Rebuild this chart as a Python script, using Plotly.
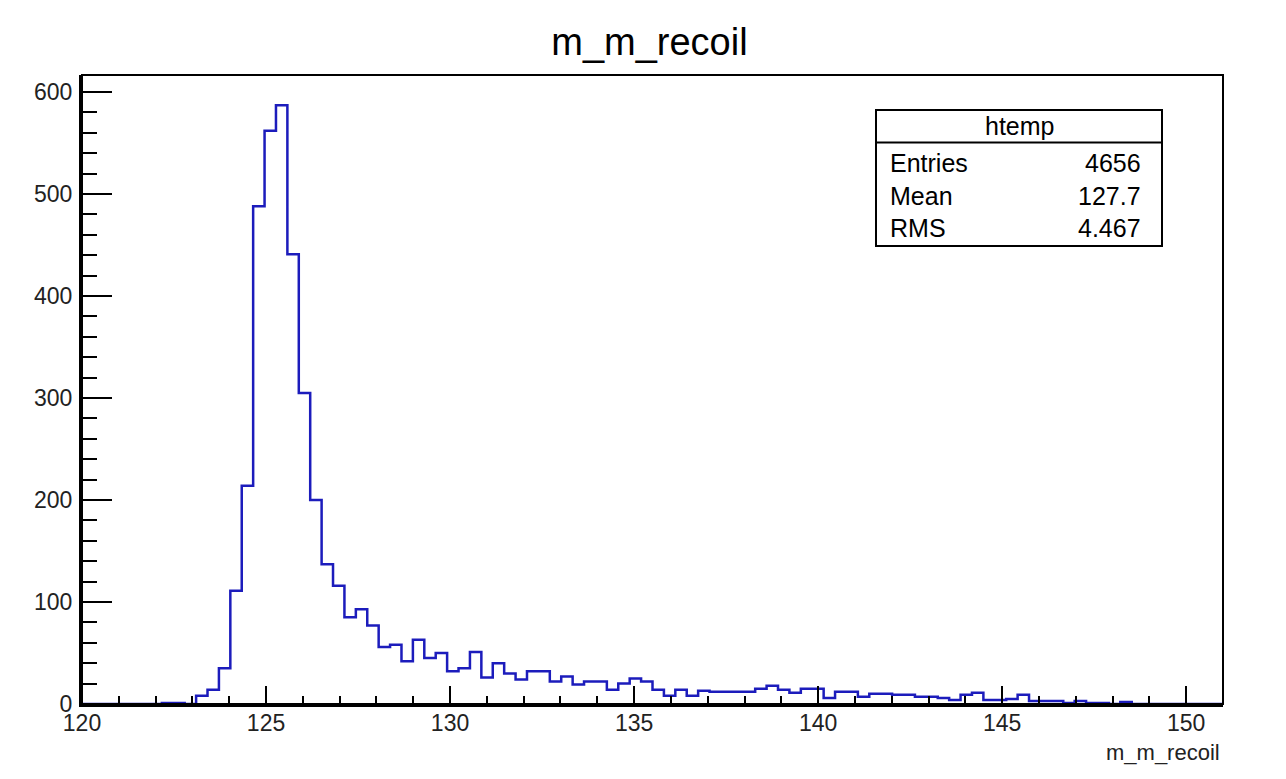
import plotly.graph_objects as go

# ---------------- data ----------------
hist_name = "htemp"
title_text = "m_m_recoil"
x_title = "m_m_recoil"
x_min, x_max, n_bins = 120.0, 151.0, 100

counts = [
    0, 0, 0, 0, 0, 0, 0, 1, 1, 0,          # 0-9
    8, 14, 35, 111, 214, 488, 562, 587, 441, 305,   # 10-19
    200, 137, 116, 85, 93, 77, 56, 58, 42, 63,      # 20-29
    45, 50, 32, 35, 51, 26, 40, 30, 24, 32,         # 30-39
    32, 22, 27, 19, 22, 22, 14, 20, 25, 22,         # 40-49
    14, 8, 14, 8, 13, 12, 12, 12, 12, 15,           # 50-59
    18, 14, 11, 15, 15, 6, 12, 12, 7, 10,           # 60-69
    10, 9, 9, 7, 7, 6, 4, 9, 11, 4,                 # 70-79
    4, 5, 9, 3, 3, 3, 1, 3, 1, 1,                   # 80-89
    0, 2, 0, 0, 0, 0, 0, 0, 0, 0,                   # 90-99
]

stats_labels = ["Entries", "Mean", "RMS"]
stats_values = ["4656", "127.7", "4.467"]

x_tick_vals = [120, 125, 130, 135, 140, 145, 150]
y_tick_vals = [0, 100, 200, 300, 400, 500, 600]

# ---------------- layout helpers ----------------
W, H = 1286, 779
L, R, T, B = 82, 1223, 75, 704   # plot-area pixel bounds
Y_TOP = (B - T) / 1.02


def px(x):
    return (x - L) / (R - L)


def py(y):
    return (B - y) / (B - T)


bw = (x_max - x_min) / n_bins
edges = [x_min + i * bw for i in range(n_bins + 1)]
ys = counts + [counts[-1]]

FONT = "Liberation Sans, Arial, Helvetica, sans-serif"

fig = go.Figure(
    go.Scatter(
        x=edges, y=ys, mode="lines",
        line=dict(shape="hv", color="#1c1cbc", width=2.5),
        hoverinfo="skip", showlegend=False,
    )
)

fig.update_layout(
    width=W, height=H,
    margin=dict(l=L, r=W - R, t=T, b=H - B, pad=0),
    paper_bgcolor="white", plot_bgcolor="white",
    font=dict(family=FONT, color="black"),
    title=dict(text=title_text, x=0.505, xanchor="center",
               y=1 - 42 / H, yanchor="middle", yref="container",
               font=dict(size=38, family=FONT, color="black")),
)

fig.update_xaxes(
    range=[x_min, x_max], tickmode="array", tickvals=x_tick_vals,
    ticks="inside", ticklen=18, tickwidth=2, tickcolor="black",
    showline=True, linewidth=3, linecolor="black",
    showgrid=False, zeroline=False,
    tickfont=dict(size=23, family=FONT, color="#222"),
    ticklabelstandoff=-4,
    minor=dict(ticks="inside", ticklen=8, tickwidth=2, tickcolor="black",
               tickmode="array", tickvals=list(range(120, 152)), showgrid=False),
)

fig.update_yaxes(
    range=[0, Y_TOP], tickmode="array", tickvals=y_tick_vals,
    ticks="inside", ticklen=30, tickwidth=2, tickcolor="black",
    showline=True, linewidth=3, linecolor="black",
    showgrid=False, zeroline=False,
    tickfont=dict(size=23, family=FONT, color="#222"),
    ticklabelstandoff=2,
    minor=dict(ticks="inside", ticklen=15, tickwidth=2, tickcolor="black",
               tickmode="array", tickvals=list(range(0, 620, 20)), showgrid=False),
)

shapes = [
    # frame
    dict(type="rect", xref="paper", yref="paper", x0=0, x1=1, y0=0, y1=1,
         line=dict(color="black", width=2)),
    # stats box
    dict(type="rect", xref="paper", yref="paper",
         x0=px(876), x1=px(1162), y0=py(246), y1=py(110),
         line=dict(color="black", width=2), fillcolor="white"),
    dict(type="line", xref="paper", yref="paper",
         x0=px(876), x1=px(1162), y0=py(142.5), y1=py(142.5),
         line=dict(color="black", width=2)),
]

annotations = [
    dict(text=hist_name, xref="paper", yref="paper", x=px(1019), y=py(126),
         xanchor="center", yanchor="middle", showarrow=False,
         font=dict(size=25, family=FONT, color="black")),
    dict(text=x_title, xref="paper", yref="paper", x=px(1222), y=py(752),
         xanchor="right", yanchor="middle", showarrow=False,
         font=dict(size=22, family=FONT, color="#222")),
]
row_y = [163, 196, 228]
for lab, val, yy in zip(stats_labels, stats_values, row_y):
    annotations.append(dict(text=lab, xref="paper", yref="paper", x=px(888), y=py(yy),
                            xanchor="left", yanchor="middle", showarrow=False,
                            font=dict(size=25, family=FONT, color="black")))
    annotations.append(dict(text=val, xref="paper", yref="paper", x=px(1143), y=py(yy),
                            xanchor="right", yanchor="middle", showarrow=False,
                            font=dict(size=25, family=FONT, color="black")))

fig.update_layout(shapes=shapes, annotations=annotations)

fig.write_html("out.html")
